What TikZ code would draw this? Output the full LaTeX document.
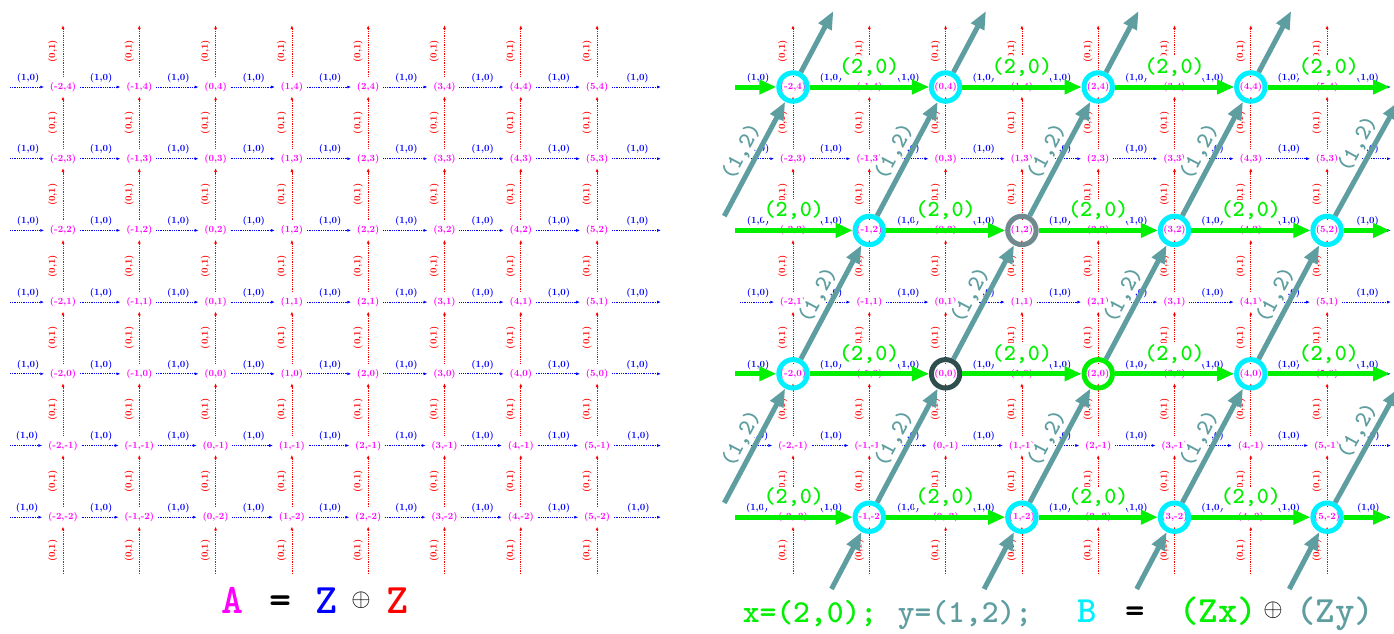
\documentclass[tikz,border=0pt]{standalone}
\usetikzlibrary{arrows.meta}
\definecolor{ycol}{RGB}{95,158,160}
\definecolor{origin}{RGB}{47,79,79}
\definecolor{ycirc}{RGB}{112,138,144}
\definecolor{latcol}{RGB}{0,240,255}
\definecolor{ptcol}{RGB}{255,0,255}
\definecolor{xcol}{RGB}{0,240,0}
\newcommand\gridfont{\fontsize{9.5}{9.5}\selectfont\bfseries}
\newcommand\bigtt[1]{\fontsize{#1}{#1}\selectfont\ttfamily\bfseries}
\begin{document}
\begin{tikzpicture}[x=1pt,y=-1pt,
pt/.style={text=ptcol,font=\gridfont,inner sep=1.5pt,text height=7pt,text depth=2pt},
hor/.style={blue,densely dotted,line width=0.8pt,-{Latex[length=4pt,width=3pt]},shorten <=2pt,shorten >=4pt},
ver/.style={red,densely dotted,line width=0.8pt,-{Latex[length=4pt,width=3pt]},shorten <=4pt,shorten >=3pt},
hl/.style={midway,above=3pt,text=blue,font=\gridfont,inner sep=1pt},
vl/.style={midway,sloped,above=4pt,text=red,font=\gridfont,inner sep=1pt},
lat/.style={circle,draw=latcol,line width=5pt,minimum size=28.4pt,inner sep=0pt},
xarr/.style={xcol,line width=5pt,-{Triangle[length=17pt,width=14pt]}},
yarr/.style={ycol,line width=5pt,-{Triangle[length=18pt,width=14pt]}},
xl/.style={midway,yshift=20pt,text=xcol,fill=white,inner sep=1pt,font=\bigtt{23}},
yl/.style={midway,sloped,above=2pt,text=ycol,fill=white,inner sep=1pt,font=\bigtt{23}},
]
\useasboundingbox (0,0) rectangle (1394,633);
\fill[white] (0,0) rectangle (1394,633);

% the two grids Z+Z
\foreach \p/\ox in {L/63,R/793}{
  \foreach \i in {-2,...,5}
    \foreach \j in {-2,...,4}
      \node[pt] (\p\i_\j) at ({\ox+76.3*(\i+2)},{87+71.7*(4-\j)}) {(\i,\j)};
  \foreach \j in {-2,...,4}{
    \coordinate (\p in\j) at (\ox-55,{87+71.7*(4-\j)});
    \coordinate (\p out\j) at (\ox+602,{87+71.7*(4-\j)});
    \draw[hor] (\p in\j) -- (\p-2_\j) node[hl]{(1,0)};
    \foreach \i [evaluate=\i as \k using int(\i+1)] in {-2,...,4}
      \draw[hor] (\p\i_\j) -- (\p\k_\j) node[hl]{(1,0)};
    \draw[hor] (\p5_\j) -- (\p out\j) node[hl]{(1,0)};
  }
  \foreach \i in {-2,...,5}{
    \coordinate (\p bot\i) at ({\ox+76.3*(\i+2)},578);
    \coordinate (\p top\i) at ({\ox+76.3*(\i+2)},22);
    \draw[ver] (\p bot\i) -- (\p\i_-2) node[vl]{(0,1)};
    \foreach \j [evaluate=\j as \k using int(\j+1)] in {-2,...,3}
      \draw[ver] (\p\i_\j) -- (\p\i_\k) node[vl]{(0,1)};
    \draw[ver] (\p\i_4) -- (\p top\i) node[vl]{(0,1)};
  }
}

% sublattice B
\foreach \i/\j/\c in {-2/4/latcol,0/4/latcol,2/4/latcol,4/4/latcol,-1/2/latcol,1/2/ycirc,3/2/latcol,5/2/latcol,
  -2/0/latcol,0/0/origin,2/0/xcol,4/0/latcol,-1/-2/latcol,1/-2/latcol,3/-2/latcol,5/-2/latcol}
  \node[lat,draw=\c] (B\i_\j) at (R\i_\j) {};

\foreach \j in {4,2,0,-2}{
  \coordinate (Gin\j) at (735,{87+71.7*(4-\j)});
  \coordinate (Gout\j) at (1390,{87+71.7*(4-\j)});
}
\foreach \j in {4,0}{
  \draw[xarr] (Gin\j) -- (B-2_\j);
  \foreach \a/\b in {-2/0,0/2,2/4}
    \draw[xarr] (B\a_\j) -- (B\b_\j) node[xl]{(2,0)};
  \draw[xarr] (B4_\j) -- (Gout\j) node[xl]{(2,0)};
}
\foreach \j in {2,-2}{
  \draw[xarr] (Gin\j) -- (B-1_\j) node[xl]{(2,0)};
  \foreach \a/\b in {-1/1,1/3,3/5}
    \draw[xarr] (B\a_\j) -- (B\b_\j) node[xl]{(2,0)};
  \draw[xarr] (B5_\j) -- (Gout\j);
}

\coordinate (S-3_2) at (724.3,216.1);
\coordinate (S-3_-2) at (724.3,502.9);
\coordinate (V6_4) at (1406.4,87);
\coordinate (V6_0) at (1406.4,373.8);
\draw[yarr] (S-3_2) -- (B-2_4) node[yl]{(1,2)};
\draw[yarr] (S-3_-2) -- (B-2_0) node[yl]{(1,2)};
\foreach \a/\b/\c/\d in {-1/-2/0/0,1/-2/2/0,3/-2/4/0,-2/0/-1/2,0/0/1/2,2/0/3/2,4/0/5/2,-1/2/0/4,1/2/2/4,3/2/4/4}
  \draw[yarr] (B\a_\b) -- (B\c_\d) node[yl]{(1,2)};
\draw[yarr,shorten >=16.7pt] (B5_-2) -- (V6_0) node[yl]{(1,2)};
\draw[yarr,shorten >=16.7pt] (B5_2) -- (V6_4) node[yl]{(1,2)};
\foreach \i/\x in {-1/831.5,1/984.1,3/1136.7,5/1289.3}{
  \coordinate (Bot\i) at (\x,589);
  \draw[yarr] (Bot\i) -- (B\i_-2);
}
\foreach \i/\x in {-2/833.4,0/986,2/1138.6,4/1291.2}{
  \coordinate (Top\i) at (\x,11);
  \draw[yarr] (B\i_4) -- (Top\i);
}

% captions
\node[anchor=base,text=ptcol,font=\bigtt{42}] (capA) at (233,613) {A};
\node[anchor=base,font=\bigtt{42}] (capEq) at (281,613) {=};
\node[anchor=base,text=blue,font=\bigtt{42}] (capZa) at (327,613) {Z};
\node[font=\fontsize{26}{26}\selectfont] (capPlus) at (361,600) {$\oplus$};
\node[anchor=base,text=red,font=\bigtt{42}] (capZb) at (398,613) {Z};

\node[anchor=base,text=xcol,font=\bigtt{32}] (capX) at (810,622) {x=(2,0);};
\node[anchor=base,text=ycol,font=\bigtt{32}] (capY) at (965,622) {y=(1,2);};
\node[anchor=base,text=latcol,font=\bigtt{37}] (capB) at (1087,622) {B};
\node[anchor=base,font=\bigtt{37}] (capEqB) at (1135,622) {=};
\node[anchor=base,text=xcol,font=\bigtt{37}] (capZx) at (1218,622) {(Zx)};
\node[font=\fontsize{26}{26}\selectfont] (capPlusB) at (1273,610) {$\oplus$};
\node[anchor=base,text=ycol,font=\bigtt{37}] (capZy) at (1335,622) {(Zy)};
\end{tikzpicture}
\end{document}
